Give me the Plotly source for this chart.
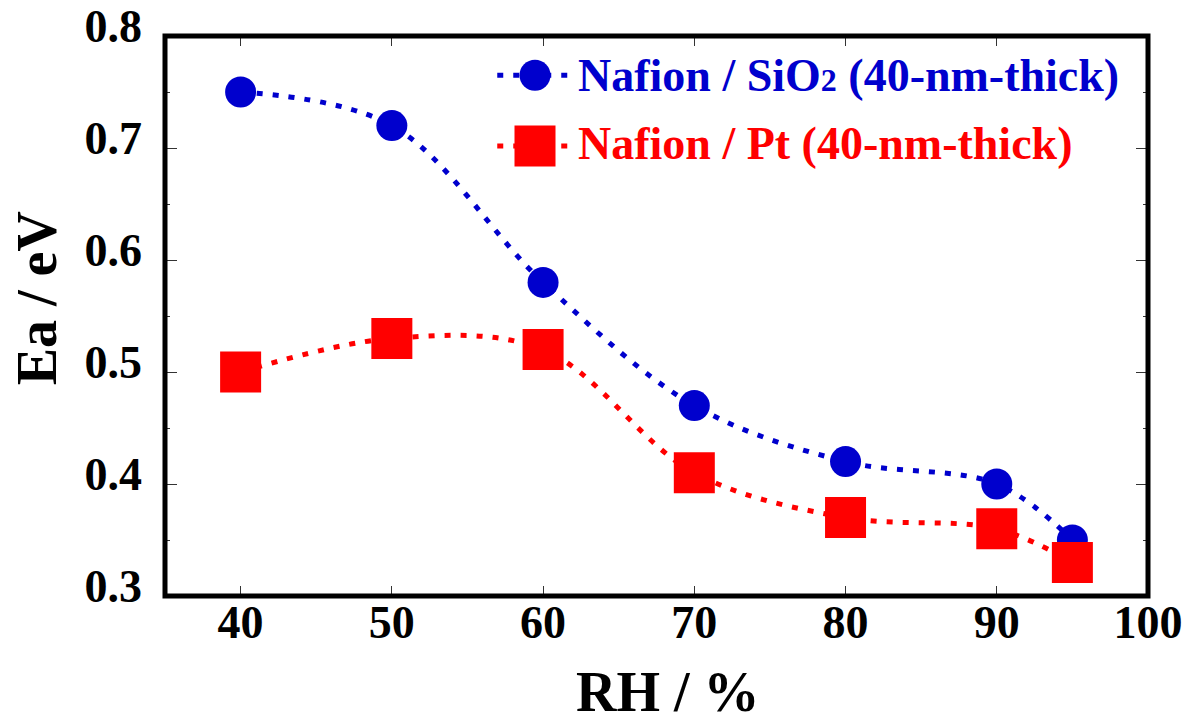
import plotly.graph_objects as go

rh = [40, 50, 60, 70, 80, 90, 95]
ea_sio2 = [0.75, 0.72, 0.58, 0.47, 0.42, 0.40, 0.35]
ea_pt = [0.50, 0.53, 0.52, 0.41, 0.37, 0.36, 0.33]
x_ticks = [40, 50, 60, 70, 80, 90, 100]
y_ticks = [0.3, 0.4, 0.5, 0.6, 0.7, 0.8]
name_sio2 = "Nafion / SiO<span style='font-size:32px'>2</span> (40-nm-thick)"
name_pt = "Nafion / Pt (40-nm-thick)"
x_title = "RH / %"
y_title = "Ea / eV"

BLUE = "rgb(0,0,205)"
RED = "rgb(255,0,0)"
FONT = "Liberation Serif"
DASH = "6px,10px"

fig = go.Figure()
fig.add_trace(go.Scatter(
    x=rh, y=ea_sio2, mode="lines+markers", name=name_sio2,
    line=dict(color=BLUE, width=5, dash=DASH, shape="spline", smoothing=1),
    marker=dict(symbol="circle", size=31, color=BLUE),
    showlegend=False))
fig.add_trace(go.Scatter(
    x=rh, y=ea_pt, mode="lines+markers", name=name_pt,
    line=dict(color=RED, width=5, dash=DASH, shape="spline", smoothing=1),
    marker=dict(symbol="square", size=41, color=RED),
    showlegend=False))

# legend samples on a hidden overlay axis (0..1 in both directions)
leg_rows = [(0.930, 0.930, BLUE, "circle", 31, name_sio2),
            (0.8036, 0.808, RED, "square", 41, name_pt)]
for yy, ty, col, sym, sz, txt in leg_rows:
    fig.add_trace(go.Scatter(
        x=[0.338, 0.414], y=[yy, yy], mode="lines", xaxis="x2", yaxis="y2",
        line=dict(color=col, width=5, dash=DASH), showlegend=False, hoverinfo="skip"))
    fig.add_trace(go.Scatter(
        x=[0.3764], y=[yy], mode="markers", xaxis="x2", yaxis="y2",
        marker=dict(symbol=sym, size=sz, color=col), showlegend=False, hoverinfo="skip"))
    fig.add_annotation(x=0.418, y=ty, xref="paper", yref="paper", xanchor="left",
                       yanchor="middle", text=txt, showarrow=False,
                       font=dict(family=FONT, size=46, color=col, weight="bold"))

# axis titles
fig.add_annotation(x=0.5122, y=-0.172, xref="paper", yref="paper", xanchor="center",
                   yanchor="middle", text=x_title, showarrow=False,
                   font=dict(family=FONT, size=56, color="black", weight="bold"))
fig.add_annotation(x=-0.130, y=0.532, xref="paper", yref="paper", xanchor="center",
                   yanchor="middle", text=y_title, showarrow=False, textangle=-90,
                   font=dict(family=FONT, size=56, color="black", weight="bold"))

fig.add_shape(type="rect", xref="paper", yref="paper", x0=0, x1=1, y0=0, y1=1,
              line=dict(color="black", width=5), layer="above")

fig.update_layout(
    width=1188, height=711,
    margin=dict(l=157, r=48, t=28, b=123, autoexpand=False),
    paper_bgcolor="white", plot_bgcolor="white",
    font=dict(family=FONT, size=46, color="black", weight="bold"),
    xaxis=dict(range=[35, 100], tickvals=x_ticks, ticks="inside", ticklen=10,
               tickwidth=1, tickcolor="#333", showgrid=False, zeroline=False,
               showline=False, mirror="ticks", ticklabelstandoff=-5,
               automargin=False, tickfont=dict(size=46)),
    yaxis=dict(range=[0.3, 0.8], tickvals=y_ticks, tickformat=".1f", ticks="inside",
               ticklen=12, tickwidth=1, tickcolor="#333", showgrid=False,
               zeroline=False, showline=False, mirror="ticks", ticklabelstandoff=22,
               ticklabelshift=-10, ticklabeloverflow="allow", automargin=False,
               minor=dict(dtick=0.05, ticks="inside", ticklen=5, tickwidth=1,
                          tickcolor="#333", showgrid=False),
               tickfont=dict(size=46)),
    xaxis2=dict(overlaying="x", range=[0, 1], visible=False, automargin=False),
    yaxis2=dict(overlaying="y", range=[0, 1], visible=False, automargin=False),
)

fig.write_html("out.html")
